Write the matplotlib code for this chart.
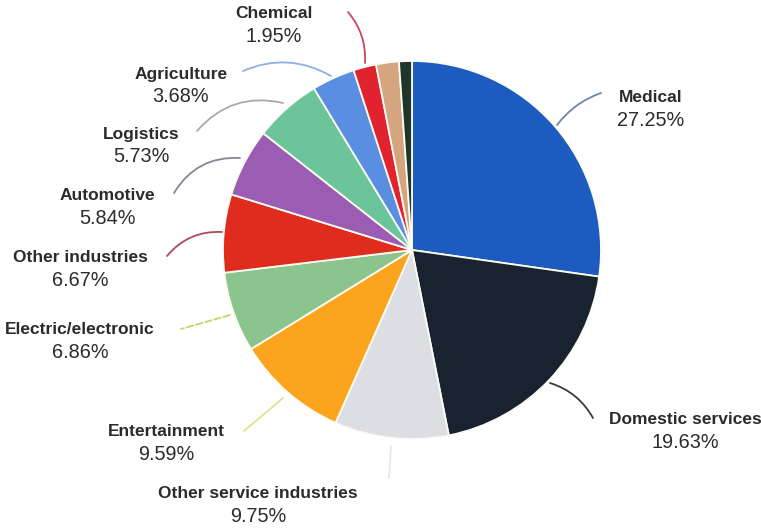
import matplotlib
matplotlib.use("Agg")
import matplotlib.pyplot as plt

W, H = 761, 531

categories = ["Medical", "Domestic services", "Other service industries", "Entertainment",
              "Electric/electronic", "Other industries", "Automotive", "Logistics",
              "Agriculture", "Chemical", "Unlabeled A", "Unlabeled B"]
values = [27.25, 19.63, 9.75, 9.59, 6.86, 6.67, 5.84, 5.73, 3.68, 1.95, 1.95, 1.10]
show_label = [True] * 10 + [False, False]

colors = ["#1c5bbf", "#19222f", "#dcdee4", "#fca41d", "#8cc48e", "#e02b1f",
          "#9a5db3", "#6cc49b", "#5a8ee0", "#e0232e", "#d4a57e", "#1e3527"]

# label placement (pixel layout): name centre x, name y
label_pos = {
    "Medical": (651, 97),
    "Domestic services": (685, 420),
    "Other service industries": (258, 494),
    "Entertainment": (166, 432),
    "Electric/electronic": (80, 330),
    "Other industries": (80, 258),
    "Automotive": (107, 196),
    "Logistics": (141, 134),
    "Agriculture": (181, 74),
    "Chemical": (274, 14),
}
# leader lines: start (on pie), end (near label), colour, style, curvature
leaders = {
    "Medical": ((557, 125), (601, 93), "#6f86a8", "-", -0.15),
    "Domestic services": ((550, 383), (593, 418), "#3a3a3a", "-", -0.2),
    "Other service industries": ((391, 446), (389, 478), "#e6e6e6", "-", 0.0),
    "Entertainment": ((283, 398), (244, 431), "#e5e28a", "-", 0.0),
    "Electric/electronic": ((230, 315), (181, 329), "#c9d36a", "--", 0.0),
    "Other industries": ((222, 232), (167, 256), "#b04a5a", "-", 0.25),
    "Automotive": ((240, 158), (174, 193), "#8d8297", "-", 0.3),
    "Logistics": ((283, 103), (197, 131), "#a9a9a9", "-", 0.3),
    "Agriculture": ((331, 76), (243, 71), "#8fb0e2", "-", 0.25),
    "Chemical": ((365, 63), (348, 12), "#c9485e", "-", 0.2),
}

fig = plt.figure(figsize=(W / 100, H / 100), dpi=100)
ax = fig.add_axes([0, 0, 1, 1])

cx, cy, r = 412, 250, 189
ax.pie(values, colors=colors, startangle=90, counterclock=False,
       center=(cx, H - cy), radius=r,
       wedgeprops=dict(edgecolor="#fbfbf2", linewidth=1.3))
ax.set_xlim(0, W)
ax.set_ylim(0, H)
ax.set_aspect("equal")
ax.axis("off")

font = ["Liberation Sans", "DejaVu Sans"]
txt_col = "#2b2b2b"
for name, val, show in zip(categories, values, show_label):
    if not show:
        continue
    x, y = label_pos[name]
    ax.text(x, H - y, name, ha="center", va="center", fontsize=12.5,
            fontweight="bold", color=txt_col, family=font)
    ax.text(x, H - y - 23, f"{val:.2f}%", ha="center", va="center", fontsize=14.3,
            color=txt_col, family=font)
    (x0, y0), (x1, y1), c, ls, rad = leaders[name]
    ax.annotate("", xy=(x1, H - y1), xytext=(x0, H - y0),
                arrowprops=dict(arrowstyle="-", color=c, lw=1.3, linestyle=ls,
                                connectionstyle=f"arc3,rad={rad}",
                                shrinkA=0, shrinkB=0))

fig.savefig("out.png", dpi=100, facecolor="white")
